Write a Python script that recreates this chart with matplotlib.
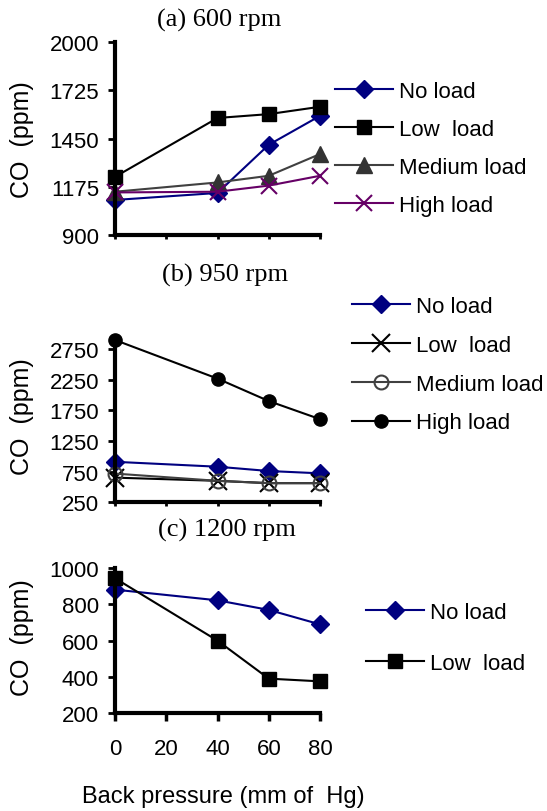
import numpy as np
import matplotlib
matplotlib.use("Agg")
import matplotlib.pyplot as plt

plt.rcParams['font.family'] = ['Liberation Sans', 'DejaVu Sans']

# back pressure (mm of Hg)
pressure = [0, 40, 60, 80]
xticks = [0, 20, 40, 60, 80]

# (a) 600 rpm, CO (ppm)
a_no_load = [1100, 1140, 1415, 1580]
a_low_load = [1232, 1568, 1590, 1632]
a_medium_load = [1147, 1200, 1238, 1362]
a_high_load = [1143, 1147, 1182, 1238]
a_yticks = [900, 1175, 1450, 1725, 2000]

# (b) 950 rpm, CO (ppm)
b_no_load = [910, 830, 760, 722]
b_low_load = [652, 600, 562, 562]
b_medium_load = [718, 600, 562, 562]
b_high_load = [2895, 2266, 1900, 1605]
b_yticks = [250, 750, 1250, 1750, 2250, 2750]

# (c) 1200 rpm, CO (ppm)
c_no_load = [882, 823, 770, 690]
c_low_load = [945, 600, 390, 375]
c_yticks = [200, 400, 600, 800, 1000]

W, H = 547, 812
fig = plt.figure(figsize=(W / 100, H / 100), dpi=100)


def box(left, top, right, bottom):
    return [left / W, 1 - bottom / H, (right - left) / W, (bottom - top) / H]


def style_axes(ax, yticks, ylim, show_x):
    ax.set_xlim(0, 80)
    ax.set_ylim(*ylim)
    ax.set_yticks(yticks)
    ax.set_xticks(xticks)
    for s in ['top', 'right']:
        ax.spines[s].set_visible(False)
    for s in ['left', 'bottom']:
        ax.spines[s].set_linewidth(3)
        ax.spines[s].set_capstyle('projecting')
    ax.tick_params(axis='y', direction='out', length=5, width=2, pad=6.5, labelsize=16)
    if show_x:
        ax.tick_params(axis='x', direction='out', length=6, width=2.5, pad=12, labelsize=16)
    else:
        ax.tick_params(axis='x', direction='out', length=3, width=2, labelbottom=False)
    ax.patch.set_visible(False)


def add_legend(ax, x_px, y_px, spacing):
    leg = ax.legend(loc='upper left', bbox_to_anchor=(x_px / W, 1 - y_px / H),
                    bbox_transform=fig.transFigure, frameon=False, fontsize=16,
                    handlelength=2.6, handletextpad=0.3, labelspacing=spacing,
                    borderaxespad=0, borderpad=0)
    return leg


NAVY = '#000080'
GRAY = '#404040'
PURPLE = '#660066'

# ---- (a) 600 rpm
ax1 = fig.add_axes(box(115, 43.3, 320, 236))
ax1.plot(pressure, a_no_load, color=NAVY, lw=1.5, marker='D', ms=9, clip_on=False, label='No load')
ax1.plot(pressure, a_low_load, color='black', lw=1.5, marker='s', ms=9.5, clip_on=False, label='Low  load')
ax1.plot(pressure, a_medium_load, color=GRAY, lw=1.5, marker='^', ms=11, mfc='#333333', mec='#333333',
         clip_on=False, label='Medium load')
ax1.plot(pressure, a_high_load, color=PURPLE, lw=1.5, marker='x', ms=11, mew=1.5, clip_on=False,
         label='High load')
style_axes(ax1, a_yticks, (900, 2000), False)
add_legend(ax1, 335, 82, 0.76)

# ---- (b) 950 rpm
ax2 = fig.add_axes(box(115, 340.7, 320, 503.3))
ax2.plot(pressure, b_no_load, color=NAVY, lw=1.5, marker='D', ms=9, clip_on=False, label='No load')
ax2.plot(pressure, b_low_load, color='black', lw=1.5, marker='x', ms=13, mew=1.5, clip_on=False,
         label='Low  load')
ax2.plot(pressure, b_medium_load, color=GRAY, lw=1.5, marker='o', ms=10, mfc='none', mec=GRAY, mew=1.5,
         clip_on=False, label='Medium load')
ax2.plot(pressure, b_high_load, color='black', lw=1.5, marker='o', ms=9.5, clip_on=False, label='High load')
style_axes(ax2, b_yticks, (250, 2900), False)
add_legend(ax2, 352, 297, 0.80)

# ---- (c) 1200 rpm
ax3 = fig.add_axes(box(115, 569.3, 320, 714))
ax3.plot(pressure, c_no_load, color=NAVY, lw=1.5, marker='D', ms=9, clip_on=False, label='No load')
ax3.plot(pressure, c_low_load, color='black', lw=1.5, marker='s', ms=9.5, clip_on=False, label='Low  load')
style_axes(ax3, c_yticks, (200, 1000), True)
add_legend(ax3, 366, 603, 1.35)

# titles and axis labels
for txt, xc, yc in [('(a) 600 rpm', 219, 20), ('(b) 950 rpm', 225, 275), ('(c) 1200 rpm', 227, 530)]:
    fig.text(xc / W, 1 - yc / H, txt, ha='center', va='center', fontsize=19,
             family=['Liberation Serif', 'DejaVu Serif'])
for yc in [140, 417, 638]:
    fig.text(22 / W, 1 - yc / H, 'CO  (ppm)', ha='center', va='center', rotation=90, fontsize=18)
fig.text(223 / W, 1 - 797 / H, 'Back pressure (mm of  Hg)', ha='center', va='center', fontsize=17)

fig.savefig('out.png', dpi=100)
